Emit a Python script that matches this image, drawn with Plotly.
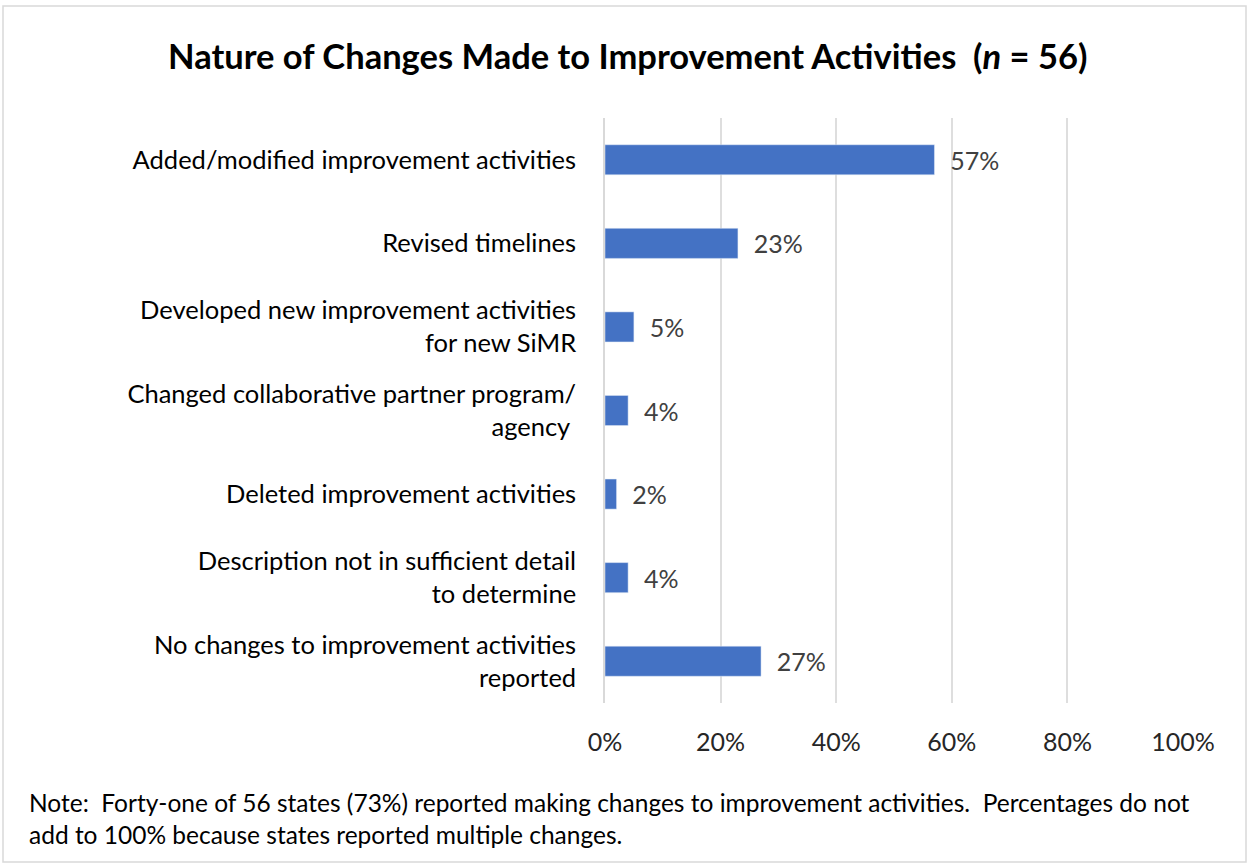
import plotly.graph_objects as go

categories = [
    "Added/modified improvement activities",
    "Revised timelines",
    "Developed new improvement activities<br>for new SiMR",
    "Changed collaborative partner program/<br>agency ",
    "Deleted improvement activities",
    "Description not in sufficient detail<br>to determine",
    "No changes to improvement activities<br>reported",
]
percents = [57, 23, 5, 4, 2, 4, 27]
x_ticks = [0, 20, 40, 60, 80, 100]

font_family = "Lato, Open Sans, sans-serif"

fig = go.Figure(go.Bar(
    x=percents,
    y=categories,
    orientation="h",
    marker=dict(color="#4472C4"),
    text=["\u00a0\u00a0" + str(p) + "%" for p in percents],
    textposition="outside",
    textfont=dict(size=25, color="#404040", family=font_family),
    cliponaxis=False,
    width=0.36,
))

fig.update_layout(
    width=1248,
    height=865,
    paper_bgcolor="white",
    plot_bgcolor="white",
    margin=dict(l=605, r=65, t=118, b=162),
    showlegend=False,
    title=dict(
        text="<b>Nature of Changes Made to Improvement Activities  (<i>n</i> = 56)</b>",
        x=0.503, xanchor="center", y=0.934, yanchor="middle",
        font=dict(size=34.5, color="black", family=font_family),
    ),
    font=dict(family=font_family),
    xaxis=dict(
        range=[0, 100],
        tickvals=x_ticks,
        ticktext=[str(t) + "%" for t in x_ticks],
        showgrid=True,
        gridcolor="#dedede",
        gridwidth=1.5,
        zeroline=False,
        showline=False,
        tickfont=dict(size=25, color="#262626"),
        ticklabelstandoff=22,
        fixedrange=True,
    ),
    yaxis=dict(
        autorange="reversed",
        showgrid=False,
        showline=True,
        linecolor="#d9d9d9",
        linewidth=1.5,
        tickfont=dict(size=25.5, color="black"),
        ticklabelstandoff=22,
    ),
    shapes=[dict(
        type="rect", xref="paper", yref="paper",
        x0=(3 - 605) / 578, x1=(1246 - 605) / 578,
        y0=(703 - 862) / 585, y1=(703 - 6) / 585,
        line=dict(color="#d9d9d9", width=1.5),
    )],
    annotations=[dict(
        text="Note:  Forty-one of 56 states (73%) reported making changes to improvement activities.  Percentages do not<br>add to 100% because states reported multiple changes.",
        xref="paper", yref="paper",
        x=(27 - 605) / 578, y=(703 - 786) / 585,
        xanchor="left", yanchor="top", align="left", showarrow=False,
        font=dict(size=24.5, color="black", family=font_family),
    )],
)

fig.write_html("out.html", config={"displayModeBar": False},
               post_script="document.body.style.margin='0';")
